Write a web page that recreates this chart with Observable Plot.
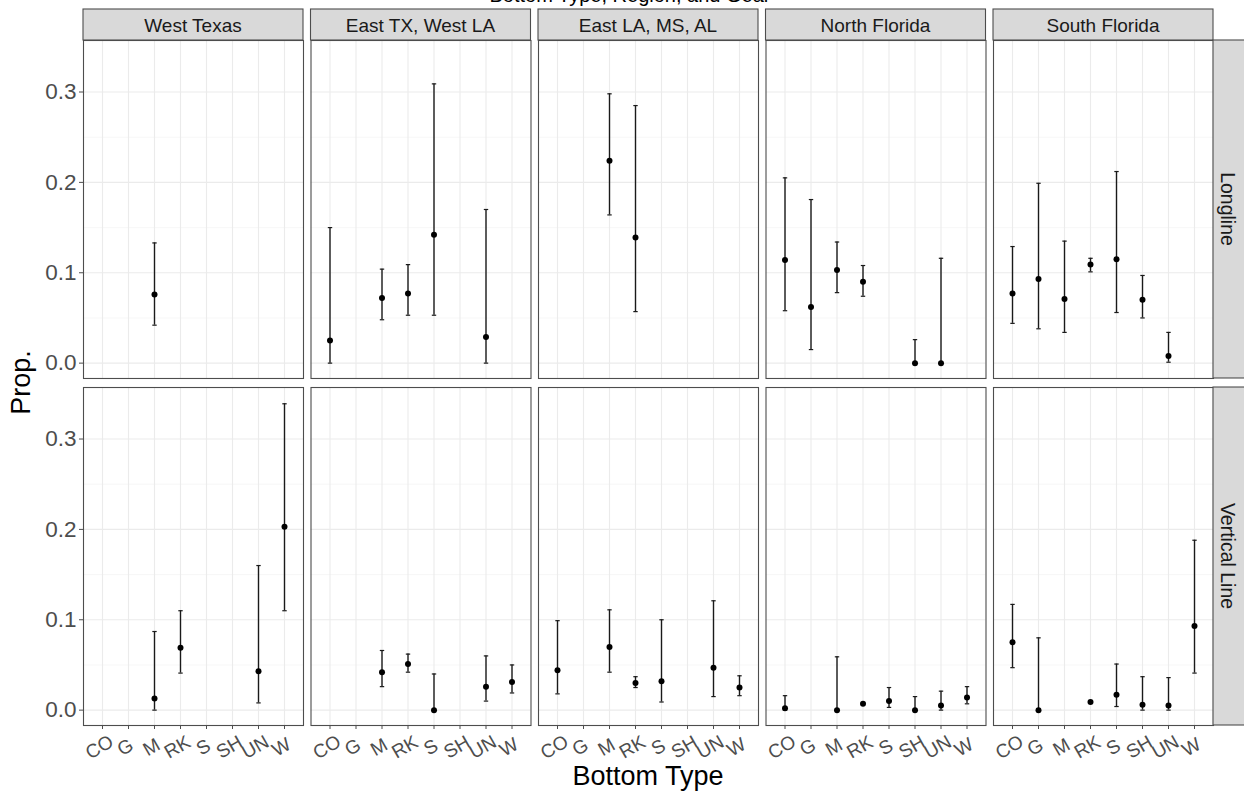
<!DOCTYPE html>
<html><head><meta charset="utf-8">
<script src="https://cdn.jsdelivr.net/npm/d3@7"></script>
<script src="https://cdn.jsdelivr.net/npm/@observablehq/plot@0.6"></script>
<style>
body{margin:0;background:#fff;}
#chart svg{display:block;}
</style></head><body><div id="chart"></div>
<script>
// ---- data ----
const regions = ["West Texas", "East TX, West LA", "East LA, MS, AL", "North Florida", "South Florida"];
const gears = ["Longline", "Vertical Line"];
const bottomTypes = ["CO", "G", "M", "RK", "S", "SH", "UN", "W"];
const yTicks = [0, 0.1, 0.2, 0.3];
const yMinor = [0.05, 0.15, 0.25];

const regionCol = [
  "West Texas",
  "East TX, West LA","East TX, West LA","East TX, West LA","East TX, West LA","East TX, West LA",
  "East LA, MS, AL","East LA, MS, AL",
  "North Florida","North Florida","North Florida","North Florida","North Florida","North Florida",
  "South Florida","South Florida","South Florida","South Florida","South Florida","South Florida","South Florida",
  "West Texas","West Texas","West Texas","West Texas",
  "East TX, West LA","East TX, West LA","East TX, West LA","East TX, West LA","East TX, West LA",
  "East LA, MS, AL","East LA, MS, AL","East LA, MS, AL","East LA, MS, AL","East LA, MS, AL","East LA, MS, AL",
  "North Florida","North Florida","North Florida","North Florida","North Florida","North Florida","North Florida",
  "South Florida","South Florida","South Florida","South Florida","South Florida","South Florida","South Florida"
];
const gearCol = [
  ...Array(21).fill("Longline"),
  ...Array(29).fill("Vertical Line")
];
const typeCol = [
  "M",
  "CO","M","RK","S","UN",
  "M","RK",
  "CO","G","M","RK","SH","UN",
  "CO","G","M","RK","S","SH","UN",
  "M","RK","UN","W",
  "M","RK","S","UN","W",
  "CO","M","RK","S","UN","W",
  "CO","M","RK","S","SH","UN","W",
  "CO","G","RK","S","SH","UN","W"
];
const propVals = [
  0.076,
  0.025,0.072,0.077,0.142,0.029,
  0.224,0.139,
  0.114,0.062,0.103,0.090,0.000,0.000,
  0.077,0.093,0.071,0.109,0.115,0.070,0.008,
  0.013,0.069,0.043,0.203,
  0.042,0.051,0.000,0.026,0.031,
  0.044,0.070,0.030,0.032,0.047,0.025,
  0.002,0.000,0.007,0.010,0.000,0.005,0.014,
  0.075,0.000,0.009,0.017,0.006,0.005,0.093
];
const lowVals = [
  0.042,
  0.000,0.048,0.053,0.053,0.000,
  0.164,0.057,
  0.058,0.015,0.078,0.074,0.000,0.000,
  0.044,0.038,0.034,0.101,0.056,0.050,0.001,
  0.000,0.041,0.008,0.110,
  0.026,0.042,0.000,0.010,0.019,
  0.018,0.042,0.025,0.009,0.015,0.016,
  0.000,0.000,0.007,0.003,0.000,0.000,0.007,
  0.047,0.000,0.009,0.004,0.000,0.000,0.041
];
const highVals = [
  0.133,
  0.150,0.104,0.109,0.309,0.170,
  0.298,0.285,
  0.205,0.181,0.134,0.108,0.026,0.116,
  0.129,0.199,0.135,0.116,0.212,0.097,0.034,
  0.087,0.110,0.160,0.339,
  0.066,0.062,0.040,0.060,0.050,
  0.099,0.111,0.037,0.100,0.121,0.038,
  0.016,0.059,0.008,0.025,0.015,0.021,0.026,
  0.117,0.080,0.010,0.051,0.037,0.036,0.188
];

const data = propVals.map((p, i) => ({
  region: regionCol[i], gear: gearCol[i], type: typeCol[i],
  prop: p, lo: lowVals[i], hi: highVals[i]
}));

// errorbar cap as a custom symbol
const cap = {draw(ctx) { ctx.moveTo(-2.2, 0); ctx.lineTo(2.2, 0); }};

const FONT = "'Liberation Sans', Arial, Helvetica, sans-serif";

const plot = Plot.plot({
  width: 1244, height: 795,
  marginLeft: 83, marginRight: 31, marginTop: 40, marginBottom: 70,
  style: {fontFamily: FONT, background: "#fff", overflow: "visible"},
  fx: {domain: regions, axis: null, paddingInner: 0.033, paddingOuter: 0, round: false},
  fy: {domain: gears, axis: null, paddingInner: 0.026, paddingOuter: 0, round: false},
  x: {type: "point", domain: bottomTypes, padding: 0.6, axis: null},
  y: {domain: [-0.017, 0.357], axis: null},
  marks: [
    Plot.gridY(yMinor, {stroke: "#f2f2f2", strokeOpacity: 1, strokeWidth: 0.6}),
    Plot.gridY(yTicks, {stroke: "#ebebeb", strokeOpacity: 1, strokeWidth: 1.1}),
    Plot.gridX(bottomTypes, {stroke: "#ebebeb", strokeOpacity: 1, strokeWidth: 1.1}),
    Plot.axisY(yTicks, {tickSize: 4, tickPadding: 3, tickFormat: d3.format(".1f"), fontSize: 22.5,
      color: "#4d4d4d", label: null, facetAnchor: "left"}),
    Plot.axisX(bottomTypes, {tickSize: 4, tickFormat: () => "", color: "#4d4d4d", label: null, facetAnchor: "bottom"}),
    Plot.text(bottomTypes, {x: d => d, text: d => d, frameAnchor: "bottom", dy: 27, rotate: -30,
      fontSize: 19, fill: "#4d4d4d", facetAnchor: "bottom"}),
    Plot.ruleX(data, {x: "type", y1: "lo", y2: "hi", fx: "region", fy: "gear", stroke: "#1a1a1a", strokeWidth: 1.4}),
    Plot.dot(data, {x: "type", y: "hi", fx: "region", fy: "gear", symbol: cap, r: 2, stroke: "#1a1a1a", strokeWidth: 1.2, fill: "none"}),
    Plot.dot(data, {x: "type", y: "lo", fx: "region", fy: "gear", symbol: cap, r: 2, stroke: "#1a1a1a", strokeWidth: 1.2, fill: "none"}),
    Plot.dot(data, {x: "type", y: "prop", fx: "region", fy: "gear", r: 3, fill: "#000", stroke: "none"}),
    Plot.frame({stroke: "#4d4d4d", strokeWidth: 1.1})
  ]
});

document.getElementById("chart").appendChild(plot);

// ---- strips, titles ----
const svg = d3.select(plot);
const fx = plot.scale("fx");
const fy = plot.scale("fy");
const g = svg.append("g").attr("font-family", FONT);
const topY0 = fy.apply(gears[0]);
const stripTop = 9;

regions.forEach(r => {
  const x0 = fx.apply(r);
  g.append("rect").attr("x", x0).attr("y", stripTop).attr("width", fx.bandwidth).attr("height", topY0 - stripTop)
    .attr("fill", "#d9d9d9").attr("stroke", "#4d4d4d").attr("stroke-width", 1.1);
  g.append("text").attr("x", x0 + fx.bandwidth / 2).attr("y", (stripTop + topY0) / 2 + 1)
    .attr("text-anchor", "middle").attr("dominant-baseline", "central")
    .attr("font-size", 19).attr("fill", "#1a1a1a").text(r);
});

const rightX0 = fx.apply(regions[regions.length - 1]) + fx.bandwidth;
gears.forEach(gr => {
  const y0 = fy.apply(gr);
  g.append("rect").attr("x", rightX0).attr("y", y0).attr("width", 34).attr("height", fy.bandwidth)
    .attr("fill", "#d9d9d9").attr("stroke", "#4d4d4d").attr("stroke-width", 1.1);
  g.append("text").attr("transform", `translate(${rightX0 + 15},${y0 + fy.bandwidth / 2}) rotate(90)`)
    .attr("text-anchor", "middle").attr("dominant-baseline", "central")
    .attr("font-size", 19.5).attr("fill", "#1a1a1a").text(gr);
});

const xCenter = (fx.apply(regions[0]) + rightX0) / 2;
const yCenter = (topY0 + fy.apply(gears[1]) + fy.bandwidth) / 2;

g.append("text").attr("x", xCenter).attr("y", 776).attr("text-anchor", "middle").attr("dominant-baseline", "central")
  .attr("font-size", 27).attr("fill", "#000").text("Bottom Type");
g.append("text").attr("transform", `translate(21,${yCenter}) rotate(-90)`).attr("text-anchor", "middle")
  .attr("dominant-baseline", "central").attr("font-size", 27).attr("fill", "#000").text("Prop.");
g.append("text").attr("x", 630).attr("y", 2).attr("text-anchor", "middle")
  .attr("font-size", 20).attr("fill", "#000").text("Bottom Type, Region, and Gear");
</script>
</body></html>
